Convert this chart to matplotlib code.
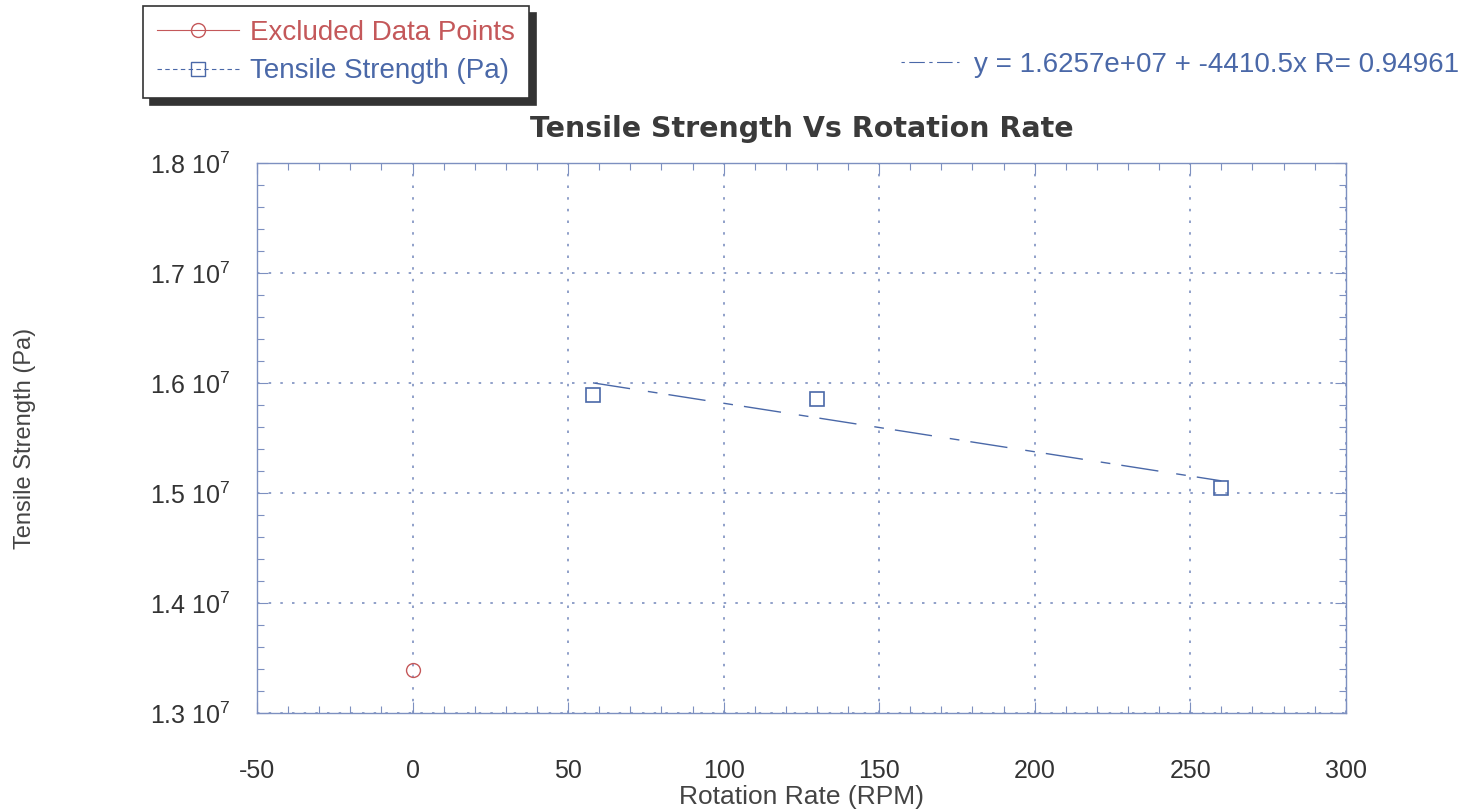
import numpy as np
import matplotlib.pyplot as plt
from matplotlib.ticker import MultipleLocator, FuncFormatter
from matplotlib.lines import Line2D

plt.rcParams["font.family"] = ["Liberation Sans", "DejaVu Sans"]
plt.rcParams["mathtext.fontset"] = "custom"
plt.rcParams["mathtext.rm"] = "Liberation Sans"
plt.rcParams["mathtext.it"] = "Liberation Sans"

# ── Data ─────────────────────────────────────────────────────────────────────
rpm = [58, 130, 260]
strength = [1.589e7, 1.5855e7, 1.5045e7]

excluded_rpm = [0]
excluded_strength = [1.339e7]

fit_intercept = 1.6257e7
fit_slope = -4410.5
fit_r = 0.94961

x_ticks = [-50, 0, 50, 100, 150, 200, 250, 300]
y_ticks = [1.3e7, 1.4e7, 1.5e7, 1.6e7, 1.7e7, 1.8e7]

blue = "#4a68a8"
red = "#c4585a"
axis_col = "#7d90c0"

fig = plt.figure(figsize=(14.66, 8.09), dpi=100)
ax = fig.add_axes([0.1753, 0.1187, 0.918 - 0.1753, 0.7985 - 0.1187])

# fitted line over the range of the data
xf = np.array([min(rpm), max(rpm)], dtype=float)
yf = fit_intercept + fit_slope * xf
ax.plot(xf, yf, color=blue, linewidth=1.0, dashes=(27, 13, 7, 8))

ax.plot(rpm, strength, linestyle="none", marker="s", markersize=10,
        markerfacecolor="none", markeredgecolor=blue, markeredgewidth=1.2)
ax.plot(excluded_rpm, excluded_strength, linestyle="none", marker="o", markersize=10,
        markerfacecolor="none", markeredgecolor=red, markeredgewidth=1.0)

ax.set_xlim(-50, 300)
ax.set_ylim(1.3e7, 1.8e7)
ax.set_xticks(x_ticks)
ax.set_yticks(y_ticks)
ax.xaxis.set_minor_locator(MultipleLocator(10))
ax.yaxis.set_minor_locator(MultipleLocator(0.02e7))
ax.xaxis.set_major_formatter(FuncFormatter(lambda v, p: "%d" % v))
ax.yaxis.set_major_formatter(FuncFormatter(lambda v, p: r"%.1f 10$^{7}$" % (v / 1e7)))

ax.tick_params(which="both", direction="in", top=True, right=True, color=axis_col,
               labelsize=18, labelcolor="#333333")
ax.tick_params(axis="x", pad=33)
ax.tick_params(axis="y", pad=19)
ax.tick_params(which="major", length=8, width=0.8)
ax.tick_params(which="minor", length=5, width=0.8)
for s in ax.spines.values():
    s.set_color(axis_col)
    s.set_linewidth(1.0)

ax.grid(True, which="major", color=axis_col, linestyle=(0, (1.5, 5.5)), linewidth=1.2)

ax.set_xlabel("Rotation Rate (RPM)", fontsize=19, color="#444444")
ax.xaxis.set_label_coords(0.5, (713 - 785) / 550)
ax.set_ylabel("Tensile Strength (Pa)", fontsize=17, color="#444444")
ax.yaxis.set_label_coords((36 - 257) / 1089, 0.5)
ax.set_title("Tensile Strength Vs Rotation Rate", fontsize=20.5, fontweight="bold",
             family="DejaVu Sans", color="#3a3a3a", pad=19)

# ── Legends ──────────────────────────────────────────────────────────────────
h_exc = Line2D([], [], color=red, linewidth=0.8, marker="o", markersize=10,
               markerfacecolor="none", markeredgecolor=red)
h_ts = Line2D([], [], color=blue, linewidth=0.8, dashes=(4, 3), marker="s", markersize=10,
              markerfacecolor="none", markeredgecolor=blue)
leg = fig.legend([h_exc, h_ts], ["Excluded Data Points", "Tensile Strength (Pa)"],
                 loc="upper left", bbox_to_anchor=(143 / 1466, 1 - 6 / 809),
                 fontsize=20, handlelength=2.95, handletextpad=0.4, borderpad=0.5,
                 labelspacing=0.45, borderaxespad=0, fancybox=False, edgecolor="#333333",
                 framealpha=1,
                 shadow={"ox": 5, "oy": -5, "color": "#333333", "alpha": 1.0})
leg.get_frame().set_linewidth(1.2)
leg.get_texts()[0].set_color(red)
leg.get_texts()[1].set_color(blue)

h_fit = Line2D([], [], color=blue, linewidth=0.8, dashes=(3, 4, 14, 4))
leg2 = fig.legend([h_fit], ["y = %.4e + %.1fx R= %.5f" % (fit_intercept, fit_slope, fit_r)],
                  loc="upper right", bbox_to_anchor=(1465 / 1466, 1 - 46 / 809),
                  fontsize=20, handlelength=2.1, handletextpad=0.55, frameon=False,
                  borderpad=0.2, borderaxespad=0)
leg2.get_texts()[0].set_color(blue)

fig.savefig("out.png", dpi=100)
